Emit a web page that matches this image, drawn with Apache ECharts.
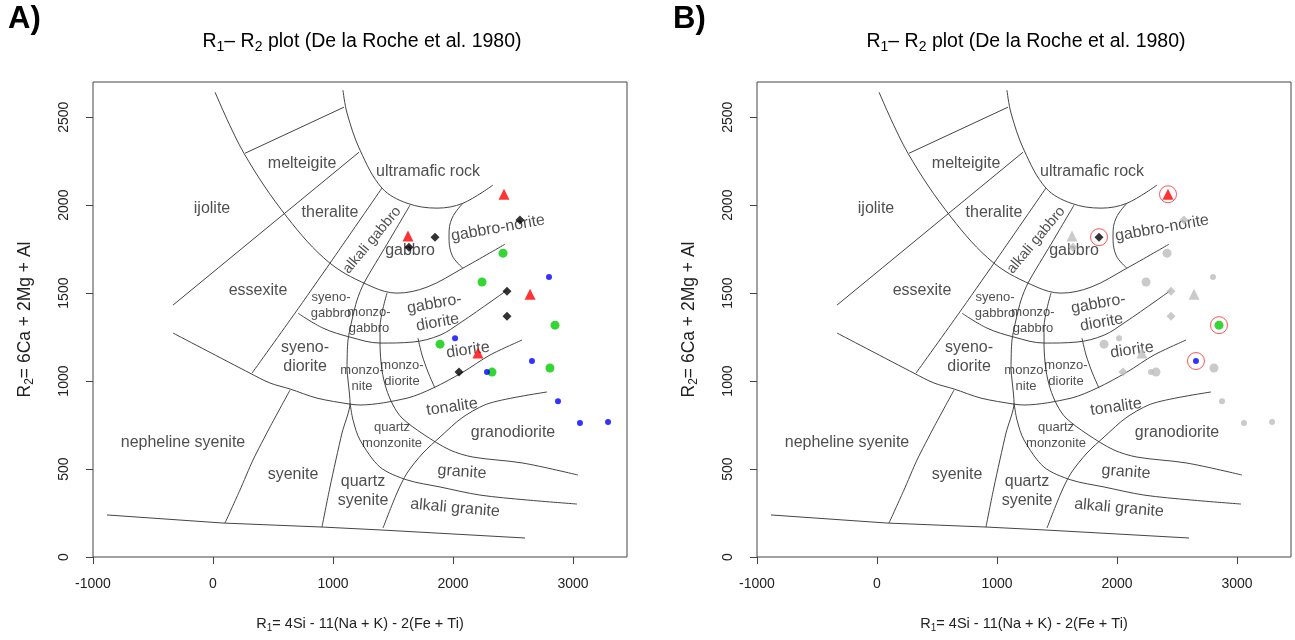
<!DOCTYPE html>
<html>
<head>
<meta charset="utf-8">
<script src="https://cdn.jsdelivr.net/npm/echarts@6/dist/echarts.min.js"></script>
<style>
  html, body { margin: 0; padding: 0; background: #fff; }
  #chart { width: 1295px; height: 640px; }
</style>
</head>
<body>
<div id="chart"></div>
<script>
// ---- R1-R2 field boundaries (De la Roche et al. 1980), [R1, R2] pairs ----
const arcUltramafic = [[1083,2653],[1117,2523],[1225,2313],[1408,2097],[1617,2011],[1867,1983],[2083,2011],[2333,2114]];
const arcGabbro = [[17,2642],[258,2295],[617,1932],[975,1670],[1333,1534],[1533,1500],[1783,1534],[2083,1642],[2433,1778]];
const arcDiorite = [[708,1386],[917,1301],[1142,1250],[1392,1216],[1667,1222],[1892,1261],[2058,1330],[2333,1460],[2450,1517]];
const arcTonalite = [[-333,1273],[308,1045],[475,989],[642,955],[867,903],[1142,869],[1225,864],[1617,903],[1833,960],[2083,1051],[2308,1148],[2575,1233]];
const lineMelteigite = [[267,2295],[1092,2557]];
const lineTheralite = [[-333,1432],[1217,2301]];
const lineEssexite = [[1408,2097],[975,1670],[683,1386],[325,1045]];
const lineMonzonite = [[1642,2000],[1450,1778],[1258,1557],[1200,1460],[1158,1347],[1125,1233],[1117,1080],[1142,875],[1075,705],[975,398],[908,170]];
const lineGabbroNorite = [[2083,2011],[1992,1926],[1967,1830],[1992,1716],[2083,1642]];
const lineMonzodiorite = [[1708,1244],[1742,1148],[1792,1051],[1850,960]];
const lineGranite = [[1450,1500],[1392,1307],[1392,1205],[1408,1063],[1442,960],[1500,864],[1575,790],[1750,699],[1975,608],[2167,568],[2583,534],[3042,466]];
const lineAlkaliGranite = [[1142,875],[1167,778],[1225,665],[1392,511],[1617,438],[1892,398],[2225,352],[2617,324],[3033,301]];
const lineQuartzSyenite = [[1417,165],[1533,364],[1617,477],[1750,591],[1892,682],[2083,795],[2308,875],[2783,938]];
const lineSyenite = [[100,193],[225,381],[333,551],[475,739],[642,949]];
const lineBase = [[-883,239],[83,193],[917,170],[1417,153],[2600,108]];

// ---- field names and their anchor points ----
const fieldNames = ['melteigite','ijolite','theralite','ultramafic rock','alkali gabbro','gabbro','gabbro-norite',
  'essexite','syeno-\ngabbro','monzo-\ngabbro','gabbro-\ndiorite','syeno-\ndiorite','monzo-\nnite','monzo-\ndiorite',
  'diorite','tonalite','granodiorite','quartz\nmonzonite','granite','quartz\nsyenite','alkali granite','syenite','nepheline syenite'];
const fieldAnchors = [[742,2239],[-8,1983],[975,1955],[1792,2188],[1325,1801],[1642,1744],[2375,1869],
  [375,1517],[983,1432],[1300,1347],[1858,1386],[767,1136],[1242,1017],[1575,1045],
  [2125,1176],[1992,852],[2500,705],[1492,693],[2075,483],[1250,375],[2017,278],[667,466],[-250,653]];

// ---- samples [R1, R2] ----
const redTriangles = [[2425,2062],[1625,1824],[2642,1494],[2208,1159]];
const blackDiamonds = [[2558,1915],[1850,1818],[1633,1761],[2450,1511],[2450,1369],[2050,1051]];
const greenCircles = [[2417,1727],[2242,1563],[2850,1318],[1892,1210],[2325,1051],[2808,1074]];
const blueCircles = [[2800,1591],[2017,1244],[2283,1051],[2658,1114],[2875,886],[3058,761],[3292,767]];
// sample picked out in panel B, one per group (red, black, green, blue)
const selectedIndex = [0, 1, 2, 3];

// ---- axes ----
const xTicks = [-1000, 0, 1000, 2000, 3000];
const yTicks = [0, 500, 1000, 1500, 2000, 2500];

const FONT = "'Liberation Sans', Arial, sans-serif";
const INK = '#222';
const LINE = '#444';

const boundaries = [
  [arcUltramafic, 0.35], [arcGabbro, 0.35], [arcDiorite, 0.35], [arcTonalite, 0.3],
  [lineMelteigite, 0], [lineTheralite, 0], [lineEssexite, 0.2], [lineMonzonite, 0.25],
  [lineGabbroNorite, 0.4], [lineMonzodiorite, 0.3], [lineGranite, 0.3], [lineAlkaliGranite, 0.3],
  [lineQuartzSyenite, 0.3], [lineSyenite, 0.2], [lineBase, 0]
];

const labelRotate = { 'alkali gabbro': 50, 'gabbro-norite': 10, 'gabbro-\ndiorite': 10, 'diorite': 8,
  'tonalite': 8, 'granite': -4, 'alkali granite': -5 };
const smallNames = ['syeno-\ngabbro', 'monzo-\ngabbro', 'monzo-\nnite', 'monzo-\ndiorite', 'quartz\nmonzonite'];

function subRich(size) {
  return {
    a: { fontSize: size, fontFamily: FONT, color: INK },
    s: { fontSize: Math.round(size * 0.7), fontFamily: FONT, color: INK, padding: [Math.round(size * 0.55), 0, 0, 0] }
  };
}

function panelSeries(gi, highlight) {
  const out = [];
  boundaries.forEach(([pts, sm]) => {
    out.push({
      type: 'line', xAxisIndex: gi, yAxisIndex: gi, data: pts, showSymbol: false, silent: true,
      smooth: sm || false, lineStyle: { color: LINE, width: 1 }, z: 2, animation: false
    });
  });
  out.push({
    type: 'scatter', xAxisIndex: gi, yAxisIndex: gi, silent: true, z: 3, animation: false,
    symbolSize: 1, itemStyle: { color: 'rgba(0,0,0,0)' },
    data: fieldNames.map((n, i) => {
      const small = smallNames.includes(n);
      return {
        value: fieldAnchors[i],
        label: {
          show: true, position: 'inside', formatter: n, rotate: labelRotate[n] || 0,
          fontFamily: FONT, color: INK, fontSize: small ? 13 : (n === 'alkali gabbro' ? 14.5 : 16),
          lineHeight: small ? 16 : 19
        }
      };
    })
  });
  const groups = [
    [redTriangles, 'triangle', 11, '#ff0000'],
    [blackDiamonds, 'diamond', 9, '#000000'],
    [greenCircles, 'circle', 9, '#00cc00'],
    [blueCircles, 'circle', 6, '#0000ff']
  ];
  groups.forEach(([pts, sym, size, col], g) => {
    const data = highlight ? pts.filter((p, i) => i !== selectedIndex[g]) : pts;
    out.push({
      type: 'scatter', xAxisIndex: gi, yAxisIndex: gi, silent: true, z: 4, animation: false,
      symbol: sym, symbolSize: size, itemStyle: { color: highlight ? '#bdbdbd' : col }, data
    });
  });
  if (highlight) {
    groups.forEach(([pts, sym, size, col], g) => {
      out.push({
        type: 'scatter', xAxisIndex: gi, yAxisIndex: gi, silent: true, z: 5, animation: false,
        symbol: sym, symbolSize: size, itemStyle: { color: col }, data: [pts[selectedIndex[g]]]
      });
    });
    out.push({
      type: 'scatter', xAxisIndex: gi, yAxisIndex: gi, silent: true, z: 6, animation: false,
      symbol: 'circle', symbolSize: 17,
      itemStyle: { color: 'rgba(0,0,0,0)', borderColor: '#ff2a2a', borderWidth: 1 },
      data: groups.map(([pts], g) => pts[selectedIndex[g]])
    });
  }
  return out;
}

const plain = v => String(v);

function xAxisFor(gi) {
  return {
    gridIndex: gi, type: 'value', min: -1000, max: 3450,
    axisLine: { show: false, onZero: false },
    axisTick: { show: true, inside: false, length: 7, customValues: xTicks, lineStyle: { color: LINE } },
    axisLabel: { customValues: xTicks, formatter: plain, fontFamily: FONT, fontSize: 14, color: INK, margin: 20 },
    splitLine: { show: false },
    name: '{a|R}{s|1}{a|= 4Si - 11(Na + K) - 2(Fe + Ti)}', nameLocation: 'middle', nameGap: 58,
    nameTextStyle: { rich: subRich(14.5) }
  };
}
function yAxisFor(gi) {
  return {
    gridIndex: gi, type: 'value', min: 0, max: 2700,
    axisLine: { show: false, onZero: false },
    axisTick: { show: true, inside: false, length: 7, customValues: yTicks, lineStyle: { color: LINE } },
    axisLabel: { customValues: yTicks, formatter: plain, fontFamily: FONT, fontSize: 14, color: INK, rotate: 90, margin: 22 },
    splitLine: { show: false },
    name: '{a|R}{s|2}{a|= 6Ca + 2Mg + Al}', nameLocation: 'middle', nameGap: 57, nameRotate: 90,
    nameTextStyle: { rich: subRich(17.5) }
  };
}

const titleText = '{a|R}{s|1}{a|– R}{s|2}{a| plot (De la Roche et al. 1980)}';

const chart = echarts.init(document.getElementById('chart'), null, { renderer: 'canvas' });
chart.setOption({
  animation: false,
  backgroundColor: '#fff',
  grid: [
    { left: 93, top: 82, width: 534, height: 475, show: true, borderColor: LINE, borderWidth: 1, backgroundColor: 'rgba(0,0,0,0)' },
    { left: 757, top: 82, width: 534, height: 475, show: true, borderColor: LINE, borderWidth: 1, backgroundColor: 'rgba(0,0,0,0)' }
  ],
  xAxis: [xAxisFor(0), xAxisFor(1)],
  yAxis: [yAxisFor(0), yAxisFor(1)],
  graphic: [
    { type: 'text', x: 8, y: 4, style: { text: 'A)', font: "bold 31px 'Liberation Sans', Arial, sans-serif", fill: '#000' } },
    { type: 'text', x: 673, y: 4, style: { text: 'B)', font: "bold 31px 'Liberation Sans', Arial, sans-serif", fill: '#000' } },
    { type: 'text', x: 362, y: 42, style: { text: titleText, rich: subRich(19.5), align: 'center', verticalAlign: 'middle' } },
    { type: 'text', x: 1026, y: 42, style: { text: titleText, rich: subRich(19.5), align: 'center', verticalAlign: 'middle' } }
  ],
  series: [...panelSeries(0, false), ...panelSeries(1, true)]
});
</script>
</body>
</html>
